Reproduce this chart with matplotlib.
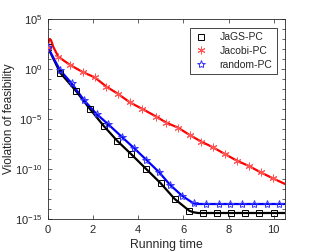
import numpy as np
import matplotlib
matplotlib.use("Agg")
import matplotlib.pyplot as plt
from matplotlib.ticker import NullFormatter, FixedLocator

plt.rcParams['font.family'] = ['Liberation Sans', 'DejaVu Sans']

# JaGS-PC (black, squares): time and log10(violation)
jags_t = [0.0, 0.55, 1.24, 1.87, 2.47, 3.07, 3.70, 4.37, 5.00, 5.62, 6.26, 6.45, 6.65, 6.87, 7.50, 8.12, 8.75, 9.37, 10.00, 10.5]
jags_log = [2.2, -0.37, -2.17, -4.0, -5.67, -7.17, -8.53, -10.03, -11.43, -13.0, -14.17, -14.33, -14.4, -14.4, -14.4, -14.4, -14.4, -14.4, -14.4, -14.4]
jags_marks = [0, 1, 2, 3, 4, 5, 6, 7, 8, 9, 10, 13, 14, 15, 16, 17, 18]

# Jacobi-PC (red, asterisks)
jac_t = [0.0, 0.05, 0.10, 0.16, 0.25, 0.47, 0.99, 1.57, 2.08, 2.60, 3.12, 3.63, 4.19, 4.81, 5.25, 5.77, 6.28, 6.80, 7.31, 7.86, 8.37, 8.90, 9.42, 9.96, 10.5]
jac_log = [2.2, 2.85, 3.0, 2.8, 2.2, 1.23, 0.4, -0.33, -0.83, -1.77, -2.5, -3.33, -4.0, -4.77, -5.37, -5.87, -6.6, -7.27, -7.83, -8.53, -9.17, -9.7, -10.33, -10.93, -11.5]
jac_marks = [0, 5, 6, 7, 8, 9, 10, 11, 12, 13, 14, 15, 16, 17, 18, 19, 20, 21, 22, 23]

# random-PC (blue, stars)
rnd_t = [0.0, 0.54, 1.06, 1.60, 2.16, 2.68, 3.27, 3.83, 4.37, 4.92, 5.42, 5.94, 6.46, 6.6, 7.02, 7.56, 8.05, 8.59, 9.15, 9.70, 10.23, 10.5]
rnd_log = [2.2, -0.1, -1.43, -3.1, -4.5, -5.53, -6.77, -7.93, -9.1, -10.3, -11.6, -12.67, -13.45, -13.5, -13.5, -13.5, -13.5, -13.5, -13.5, -13.5, -13.5, -13.5]
rnd_marks = [0, 1, 2, 3, 4, 5, 6, 7, 8, 9, 10, 11, 12, 14, 15, 16, 17, 18, 19, 20]

xticks = [0, 2, 4, 6, 8, 10]

fig = plt.figure(figsize=(3.15, 2.52), dpi=100)
ax = fig.add_axes([0.1514, 0.131, 0.7534, 0.7936])

series = [
    (jags_t, jags_log, jags_marks, 'k', 's', 3.8, 'JaGS-PC', 'k'),
    (jac_t, jac_log, jac_marks, 'r', (6, 2, 0), 5.5, 'Jacobi-PC', '#ff5555'),
    (rnd_t, rnd_log, rnd_marks, 'b', '*', 6.0, 'random-PC', '#3333ff'),
]
handles = []
for t, lg, mk, col, marker, ms, lab, mcol in series:
    t = np.asarray(t)
    v = 10.0 ** np.asarray(lg)
    ax.plot(t, v, color=col, lw=1.6, zorder=2)
    h, = ax.plot(t[mk], v[mk], linestyle='none', marker=marker, ms=ms,
                 mfc='none', mec=mcol, mew=0.7, label=lab, zorder=3)
    handles.append(h)

ax.set_yscale('log')
ax.set_xlim(0, 10.5)
ax.set_ylim(1e-15, 1e5)
ax.xaxis.set_major_locator(FixedLocator(xticks))
ax.yaxis.set_major_locator(FixedLocator([1e-15, 1e-10, 1e-5, 1e0, 1e5]))
ax.yaxis.set_minor_locator(FixedLocator([10.0 ** k for k in range(-15, 6)]))
ax.yaxis.set_minor_formatter(NullFormatter())

axcol = '#262626'
for s in ax.spines.values():
    s.set_color(axcol)
    s.set_linewidth(0.6)
ax.tick_params(which='both', direction='in', top=True, right=True, colors=axcol,
               labelcolor=axcol, width=0.5, labelsize=8)
ax.tick_params(which='major', length=3)
ax.tick_params(which='minor', length=2)
ax.tick_params(axis='x', which='major', pad=4.5)
ax.tick_params(axis='y', which='major', pad=4.0)

ax.set_xlabel('Running time', fontsize=8.8, color=axcol, labelpad=3.0)
ax.set_ylabel('Violation of feasibility', fontsize=8.6, color=axcol, labelpad=0.0)

leg = ax.legend(handles=handles, loc='upper right', bbox_to_anchor=(0.965, 0.9535),
                borderaxespad=0, fontsize=7.5, frameon=True, fancybox=False,
                framealpha=1, edgecolor=axcol, handlelength=1.2, handletextpad=1.2,
                labelspacing=0.35, borderpad=0.4)
leg.get_frame().set_linewidth(0.6)
for txt in leg.get_texts():
    txt.set_color(axcol)

fig.savefig('out.png', dpi=100)
